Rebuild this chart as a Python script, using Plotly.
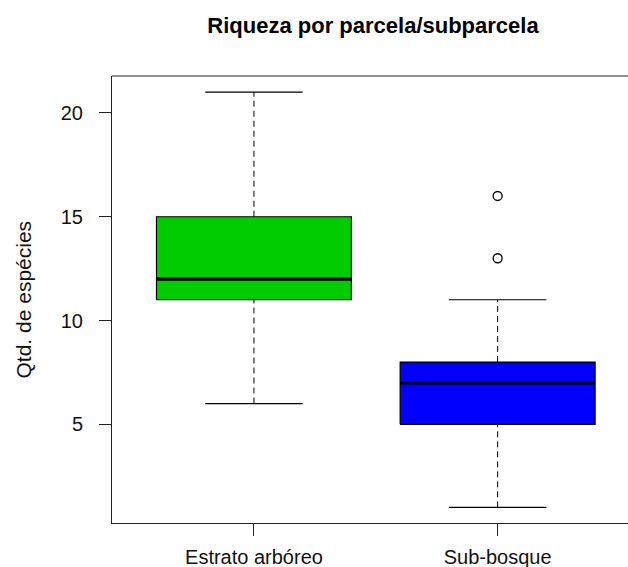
import plotly.graph_objects as go

# Five-number summaries for species richness per plot/subplot
categories = ["Estrato arbóreo", "Sub-bosque"]
lower_whisker = [6, 1]
q1 = [11, 5]
median = [12, 7]
q3 = [15, 8]
upper_whisker = [21, 11]
outliers = [[], [13, 16]]
fill_colors = ["#00CD00", "#0000FF"]
y_ticks = [5, 10, 15, 20]

positions = [1, 2]
box_half = 0.4      # box width 0.8 units, as in R's boxplot
cap_half = 0.2      # staples are half the box width
line_col = "black"
frame_col = "#222"
font_family = "Liberation Sans, Arial, sans-serif"

fig = go.Figure()

for i, pos in enumerate(positions):
    # dashed whiskers
    fig.add_trace(go.Scatter(
        x=[pos, pos, None, pos, pos],
        y=[lower_whisker[i], q1[i], None, q3[i], upper_whisker[i]],
        mode="lines", line=dict(color=line_col, width=1, dash="6px,4px"),
        hoverinfo="skip", showlegend=False))
    # whisker caps
    fig.add_trace(go.Scatter(
        x=[pos - cap_half, pos + cap_half, None, pos - cap_half, pos + cap_half],
        y=[lower_whisker[i], lower_whisker[i], None, upper_whisker[i], upper_whisker[i]],
        mode="lines", line=dict(color=line_col, width=1.2),
        hoverinfo="skip", showlegend=False))
    # filled box from Q1 to Q3
    fig.add_trace(go.Scatter(
        x=[pos - box_half, pos + box_half, pos + box_half, pos - box_half, pos - box_half],
        y=[q1[i], q1[i], q3[i], q3[i], q1[i]],
        mode="lines", fill="toself", fillcolor=fill_colors[i],
        line=dict(color=line_col, width=1.2),
        hoverinfo="skip", showlegend=False))
    # thick median bar
    fig.add_trace(go.Scatter(
        x=[pos - box_half, pos + box_half],
        y=[median[i], median[i]],
        mode="lines", line=dict(color=line_col, width=3.5),
        hoverinfo="skip", showlegend=False))
    # outliers as open circles
    if outliers[i]:
        fig.add_trace(go.Scatter(
            x=[pos] * len(outliers[i]), y=outliers[i], mode="markers",
            marker=dict(symbol="circle-open", size=9, color=line_col,
                        line=dict(width=1.3)),
            hoverinfo="skip", showlegend=False))

fig.update_layout(
    width=628, height=567,
    margin=dict(l=112, r=0, t=76, b=44),
    paper_bgcolor="white", plot_bgcolor="white",
    font=dict(family=font_family, color="#111"),
    title=dict(text="<b>Riqueza por parcela/subparcela</b>",
               x=373 / 628, xanchor="center", xref="container",
               y=1 - 25 / 567, yanchor="middle", yref="container",
               font=dict(size=22, color="black")),
    xaxis=dict(range=[0.4174, 2.535], tickvals=positions, ticktext=categories,
               showgrid=False, zeroline=False,
               showline=True, linecolor=frame_col, linewidth=1, mirror=False,
               ticks="outside", ticklen=12, tickcolor=frame_col,
               ticklabelstandoff=4,
               tickfont=dict(size=20, color="#111")),
    yaxis=dict(range=[0.246, 21.78], tickvals=y_ticks,
               showgrid=False, zeroline=False,
               showline=True, linecolor=frame_col, linewidth=1, mirror=False,
               ticks="outside", ticklen=12, tickcolor=frame_col,
               ticklabelstandoff=12,
               tickfont=dict(size=20, color="#111")),
    # top edge of the plot frame (the right edge falls outside the page)
    shapes=[dict(type="line", xref="paper", yref="paper",
                 x0=0, x1=1, y0=1, y1=1,
                 line=dict(color=frame_col, width=1))],
    annotations=[dict(text="Qtd. de espécies", textangle=-90,
                      xref="paper", yref="paper",
                      x=(23 - 112) / 516, y=0.5,
                      xanchor="center", yanchor="middle", showarrow=False,
                      font=dict(size=21, color="#111"))],
)

fig.write_html("out.html")
